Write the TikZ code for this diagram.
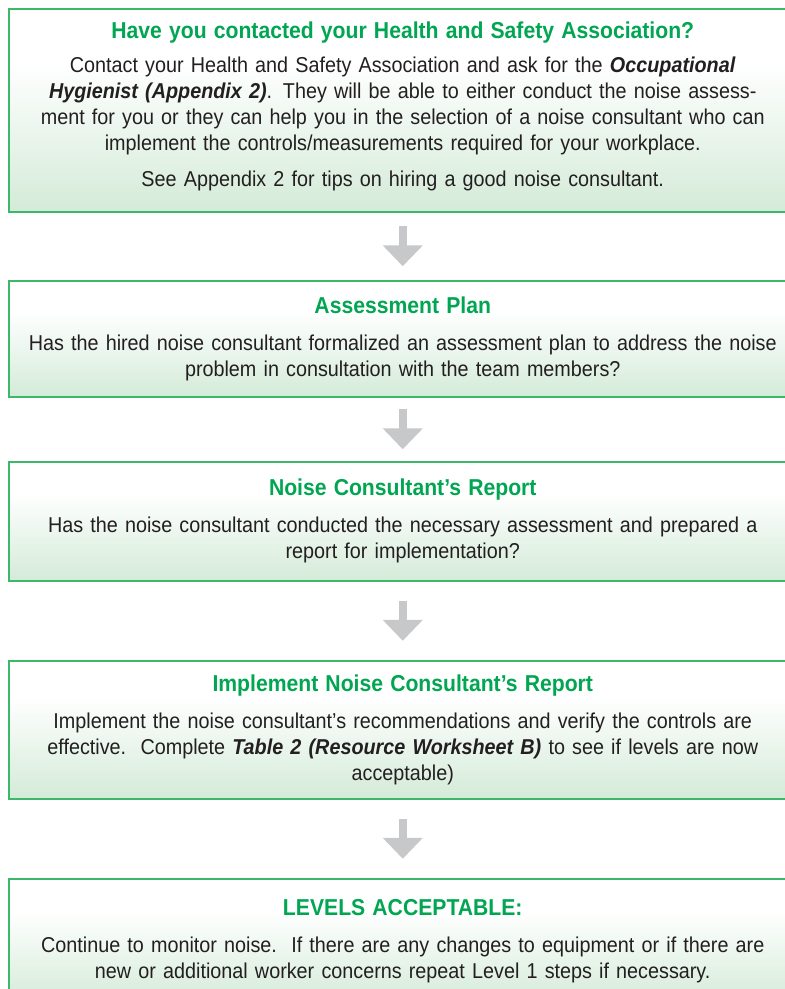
\documentclass[tikz,border=0pt]{standalone}
\usepackage{fontspec}
\setmainfont{Liberation Sans}[FakeStretch=0.92]
\usetikzlibrary{arrows.meta,calc}

\definecolor{hsagreen}{HTML}{00A651}
\definecolor{hsaline}{HTML}{3DB86B}
\definecolor{hsafade}{HTML}{D4EBD8}
\definecolor{hsagray}{HTML}{C7C8CA}
\definecolor{hsatext}{HTML}{231F20}

% white top, green towards the bottom of each panel
\pgfdeclareverticalshading{hsapanel}{100bp}{color(0bp)=(hsafade); color(25bp)=(hsafade); color(62bp)=(white); color(100bp)=(white)}

\tikzset{
  panel/.style={draw=hsaline, line width=1.5bp, shading=hsapanel, anchor=north west,
    minimum width=788bp, text width=780bp, align=center, inner sep=0pt,
    font=\fontsize{21.5bp}{26bp}\selectfont, text=hsatext},
  blockarrow/.style={hsagray, line width=8bp, -{Triangle[width=39bp,length=21bp]}},
}
\newcommand{\paneltitle}[2][11bp]{{\fontsize{23bp}{26bp}\selectfont\bfseries\color{hsagreen}#2}\\[#1]}
\newcommand{\strongref}[1]{\textbf{\textit{#1}}}

\begin{document}
\begin{tikzpicture}[x=1bp,y=1bp]
  \useasboundingbox (0,0) rectangle (785,-989);
  \clip (0,0) rectangle (785,-989);

  \node[panel, minimum height=203bp] (contact) at (8,-8) {%
    \paneltitle[8bp]{Have you contacted your Health and Safety Association?}
    Contact your Health and Safety Association and ask for the \strongref{Occupational}\\
    \strongref{Hygienist (Appendix 2)}. They will be able to either conduct the noise assess-\\
    ment for you or they can help you in the selection of a noise consultant who can\\
    implement the controls/measurements required for your workplace.\\[10bp]
    See Appendix 2 for tips on hiring a good noise consultant.\par\vspace{7bp}};

  \node[panel, minimum height=116bp] (plan) at (8,-280) {%
    \paneltitle{Assessment Plan}
    Has the hired noise consultant formalized an assessment plan to address the noise\\
    problem in consultation with the team members?};

  \node[panel, minimum height=119bp] (report) at (8,-461) {%
    \paneltitle{Noise Consultant’s Report}
    Has the noise consultant conducted the necessary assessment and prepared a\\
    report for implementation?};

  \node[panel, minimum height=138bp] (implement) at (8,-660) {%
    \paneltitle{Implement Noise Consultant’s Report}
    Implement the noise consultant’s recommendations and verify the controls are\\
    effective.\ \ Complete \strongref{Table 2 (Resource Worksheet B)} to see if levels are now\\
    acceptable)};

  \node[panel, minimum height=125bp] (accept) at (8,-878) {%
    \paneltitle{LEVELS ACCEPTABLE:}
    Continue to monitor noise.\ \ If there are any changes to equipment or if there are\\
    new or additional worker concerns repeat Level 1 steps if necessary.};

  \foreach \a/\b in {contact/plan, plan/report, report/implement, implement/accept}
    \draw[blockarrow] ($(\a.south)!.5!(\b.north)+(0,20)$) -- ($(\a.south)!.5!(\b.north)-(0,20)$);
\end{tikzpicture}
\end{document}
